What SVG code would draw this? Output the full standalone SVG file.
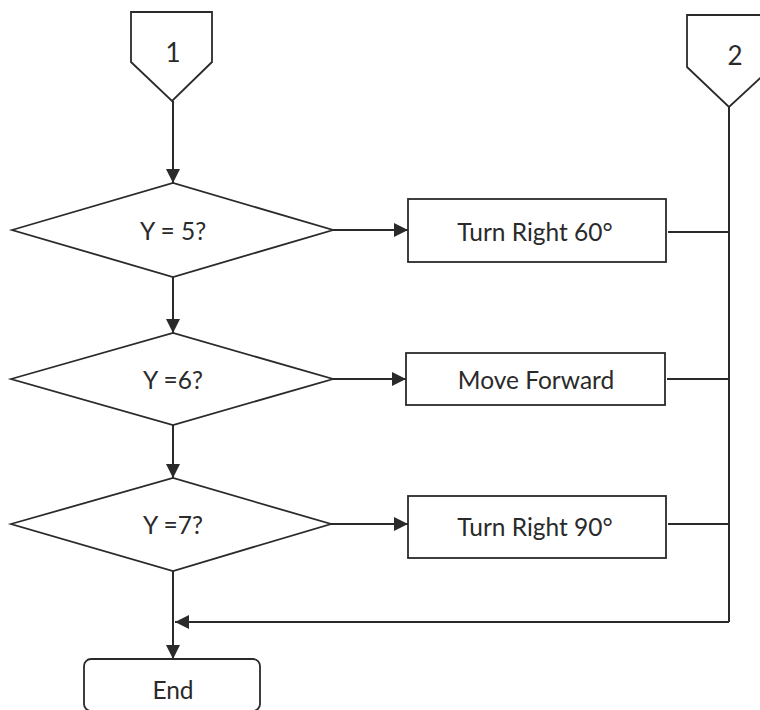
<svg xmlns="http://www.w3.org/2000/svg" width="760" height="710" viewBox="0 0 760 710">
  <style>
    .shape { fill: #ffffff; stroke: #2a2a2a; stroke-width: 1.8; }
    .label { font-family: Lato, "Open Sans", "Liberation Sans", sans-serif; font-size: 24.5px; fill: #2a2a2a; text-anchor: middle; dominant-baseline: central; }
    .num { font-size: 26px; }
    .wire { fill: none; stroke: #2a2a2a; stroke-width: 2; }
    .arrow { marker-end: url(#head); }
  </style>
  <defs>
    <marker id="head" viewBox="0 0 10 10" refX="10" refY="5" markerWidth="14" markerHeight="14" markerUnits="userSpaceOnUse" orient="auto">
      <path d="M0,0 L10,5 L0,10 Z" fill="#2a2a2a"/>
    </marker>
  </defs>
  <rect width="760" height="710" fill="#ffffff"/>

  <g id="connectors">
    <line class="wire arrow" x1="173" y1="101" x2="173" y2="183"/>
    <line class="wire arrow" x1="173" y1="277" x2="173" y2="333"/>
    <line class="wire arrow" x1="173" y1="425" x2="173" y2="478"/>
    <line class="wire arrow" x1="173" y1="571" x2="173" y2="659"/>
    <line class="wire arrow" x1="333" y1="230" x2="408" y2="230"/>
    <line class="wire arrow" x1="333" y1="379" x2="406" y2="379"/>
    <line class="wire arrow" x1="331" y1="524" x2="408" y2="524"/>
    <line class="wire" x1="668" y1="232" x2="729" y2="232"/>
    <line class="wire" x1="667" y1="379" x2="729" y2="379"/>
    <line class="wire" x1="668" y1="524" x2="729" y2="524"/>
    <line class="wire" x1="729" y1="107" x2="729" y2="622"/>
    <line class="wire arrow" x1="729" y1="622" x2="175" y2="622"/>
  </g>

  <g id="connector-1">
    <path class="shape" d="M131,12 L212,12 L212,62 L172,101 L131,62 Z"/>
    <text class="label num" x="173" y="52">1</text>
  </g>

  <g id="connector-2">
    <path class="shape" d="M687,15 L772,15 L772,67 L729,107 L687,67 Z"/>
    <text class="label num" x="735" y="55">2</text>
  </g>

  <g id="decision-y5">
    <path class="shape" d="M12,230 L173,183 L333,230 L173,277 Z"/>
    <text class="label" x="173" y="230">Y = 5?</text>
  </g>

  <g id="turn-right-60">
    <rect class="shape" x="408" y="199" width="258" height="63"/>
    <text class="label" x="535" y="231">Turn Right 60°</text>
  </g>

  <g id="decision-y6">
    <path class="shape" d="M11,379 L173,333 L333,379 L173,425 Z"/>
    <text class="label" x="173" y="379">Y =6?</text>
  </g>

  <g id="move-forward">
    <rect class="shape" x="406" y="353" width="259" height="52"/>
    <text class="label" x="536" y="379">Move Forward</text>
  </g>

  <g id="decision-y7">
    <path class="shape" d="M11,524 L173,478 L331,524 L173,571 Z"/>
    <text class="label" x="173" y="524">Y =7?</text>
  </g>

  <g id="turn-right-90">
    <rect class="shape" x="408" y="496" width="258" height="62"/>
    <text class="label" x="535" y="526">Turn Right 90°</text>
  </g>

  <g id="end">
    <rect class="shape" x="84" y="659" width="176" height="52" rx="7"/>
    <text class="label" x="173" y="689">End</text>
  </g>
</svg>
